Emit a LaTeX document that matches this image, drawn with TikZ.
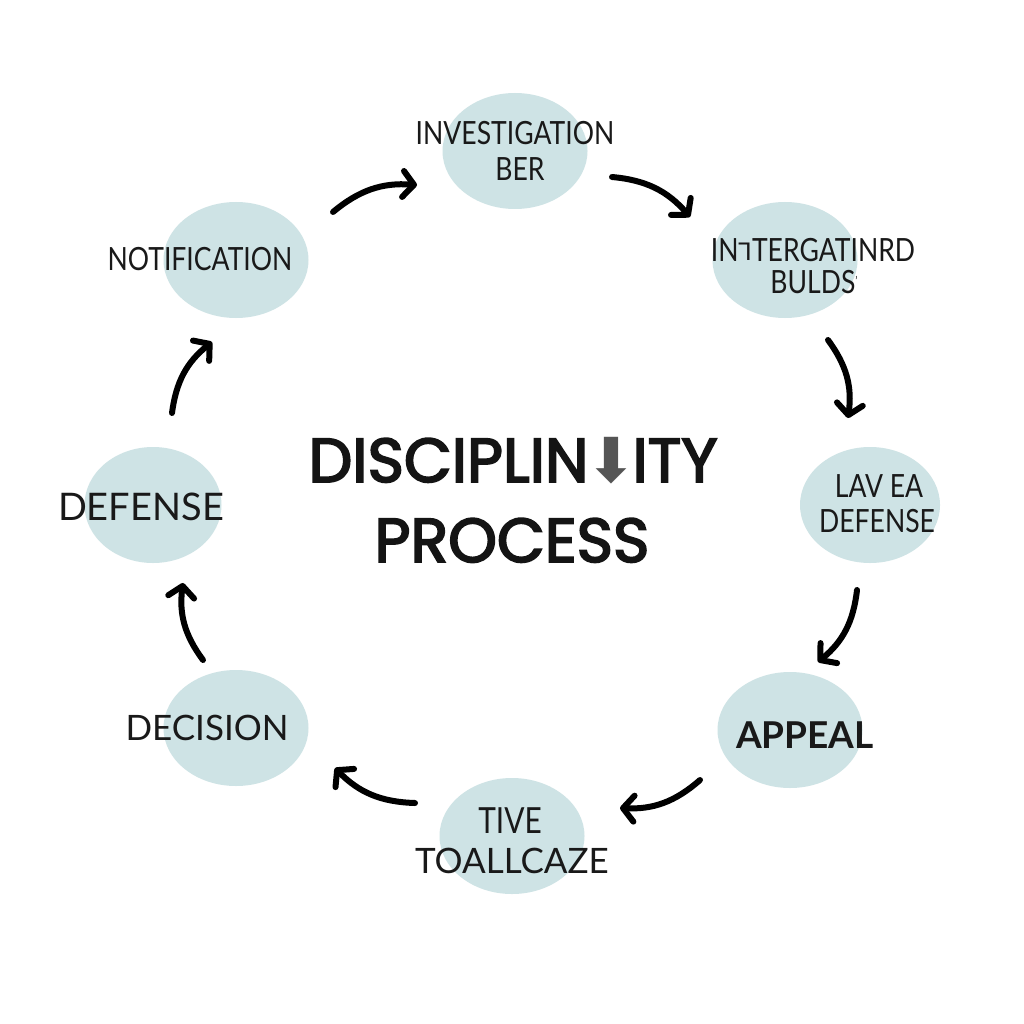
\documentclass[tikz,border=0pt]{standalone}
\usepackage{fontspec}
\usetikzlibrary{arrows.meta,shapes.geometric}
\newfontfamily\labfont[FakeStretch=0.83]{Lato}
\newfontfamily\labwide{Lato}
\newfontfamily\titlefont[FakeBold=3]{Poppins}
\newfontfamily\symfont{DejaVu Sans}
\definecolor{bubble}{RGB}{206,227,229}
\definecolor{arrowgray}{RGB}{85,85,85}
\tikzset{
  bubble/.style={ellipse, fill=bubble, draw=none, minimum width=#1, minimum height=116pt, inner sep=0pt},
  bubble/.default=145pt,
  lab/.style={anchor=base, inner sep=0pt, font=\labfont\fontsize{32}{32}\selectfont, text=black!90},
  big/.style={font=\labwide\fontsize{#1}{#1}\selectfont},
  ttl/.style={anchor=base, inner sep=0pt, font=\titlefont\fontsize{62}{62}\selectfont, text=black!92},
  flow/.style={line width=6pt, line cap=round, -{Straight Barb[length=11pt,width=26pt,round]}, bend left=#1},
  flow/.default=22
}
\begin{document}
\begin{tikzpicture}[x=1pt,y=1pt]
\useasboundingbox[fill=white] (0,0) rectangle (1024,-1024);
% bubbles
\node[bubble] (e1) at (236,-260) {};
\node[bubble] (e2) at (515,-151) {};
\node[bubble] (e3) at (785,-260) {};
\node[bubble=140pt] (e4) at (870,-505) {};
\node[bubble] (e5) at (790,-730) {};
\node[bubble] (e6) at (512,-836) {};
\node[bubble] (e7) at (236,-728) {};
\node[bubble=137pt] (e8) at (153,-505) {};
% labels
\node[lab] (t1) at (200,-270) {NOTIFICATION};
\node[lab] (t2a) at (515,-145) {INVESTIGATION};
\node[lab] (t2b) at (520,-181) {BER};
\node[lab] (t3a) at (813,-261) {IN\symfont\raisebox{1pt}{\fontsize{24}{24}\selectfont ⅂}\labfont TERGATINRD};
\node[lab] (t3b) at (814,-293) {BULDS\raisebox{8pt}{\fontsize{12}{12}\selectfont ’}};
\node[lab] (t4a) at (879,-497) {LAV EA};
\node[lab] (t4b) at (877,-532) {DEFENSE};
\node[lab, font=\labwide\bfseries\fontsize{37}{37}\selectfont] (t5) at (805,-748) {APPEAL};
\node[lab, font=\labfont\fontsize{36}{36}\selectfont] (t6a) at (510,-833) {TIVE};
\node[lab, big=35] (t6b) at (512,-873) {TOALLCAZE};
\node[lab, big=35] (t7) at (207,-740) {DECISION};
\node[lab, big=38] (t8) at (141,-520) {DEFENSE};
% title
\node[ttl] (h1) at (513,-482) {DISCIPLIN\kern-3pt{\symfont\color{arrowgray}⬇}\kern-5pt ITY};
\node[ttl] (h2) at (512,-562) {PROCESS};
% arrow ends
\coordinate (a1s) at (333,-212); \coordinate (a1e) at (417,-185);
\coordinate (a2s) at (612,-177); \coordinate (a2e) at (690,-217);
\coordinate (a3s) at (828,-340); \coordinate (a3e) at (848,-418);
\coordinate (a4s) at (857,-590); \coordinate (a4e) at (818,-662);
\coordinate (a5s) at (700,-780); \coordinate (a5e) at (620,-808);
\coordinate (a6s) at (415,-803); \coordinate (a6e) at (335,-768);
\coordinate (a7s) at (203,-660); \coordinate (a7e) at (183,-583);
\coordinate (a8s) at (172,-413); \coordinate (a8e) at (212,-342);
\draw[flow] (a1s) to (a1e);
\draw[flow] (a2s) to (a2e);
\draw[flow] (a3s) to (a3e);
\draw[flow] (a4s) to (a4e);
\draw[flow] (a5s) to (a5e);
\draw[flow] (a6s) to (a6e);
\draw[flow] (a7s) to (a7e);
\draw[flow] (a8s) to (a8e);
\end{tikzpicture}
\end{document}
